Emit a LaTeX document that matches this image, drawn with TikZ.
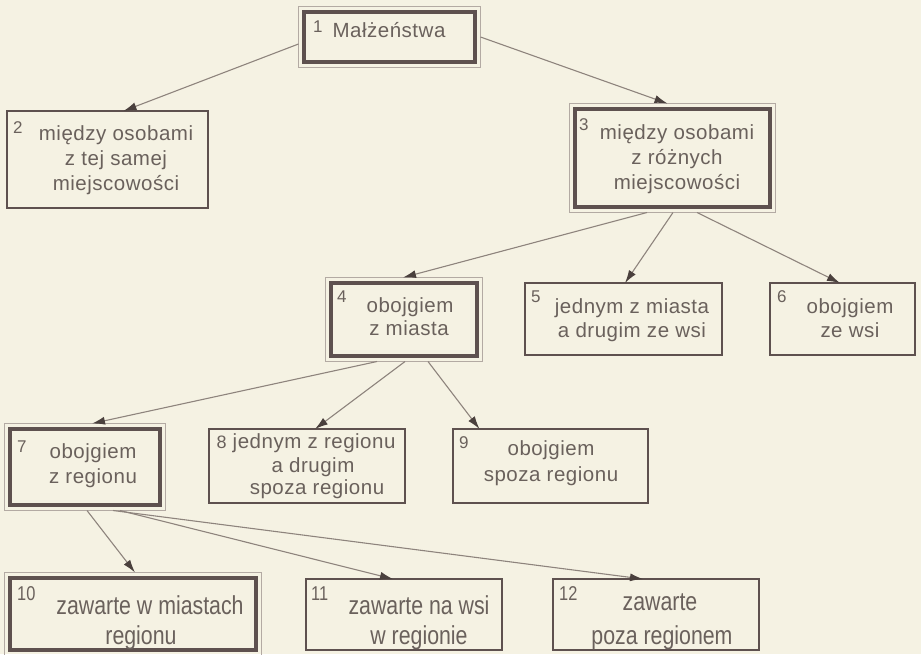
\documentclass[tikz,border=0pt]{standalone}
\usepackage{fontspec}
\setmainfont{Liberation Sans}
\newfontfamily\boxfont[LetterSpace=2.5]{Liberation Sans}
\newfontfamily\narrowfont[FakeStretch=0.82]{Liberation Sans}
\usetikzlibrary{arrows.meta}
\definecolor{bg}{HTML}{F5F2E3}
\definecolor{framec}{HTML}{5E514F}
\definecolor{lightframe}{HTML}{B3AAA3}
\definecolor{txtc}{HTML}{6A615C}
\definecolor{linec}{HTML}{8E847D}
\definecolor{headc}{HTML}{4A403D}
\begin{document}
\begin{tikzpicture}[x=1pt,y=-1pt,
  box/.style={draw=framec, line width=2.2pt, fill=bg, anchor=north west, inner sep=0pt, outer sep=0pt},
  heavy/.style={box, line width=4pt},
  outerframe/.style={draw=lightframe, line width=1.3pt},
  arr/.style={draw=linec, line width=1.1pt, -{Latex[length=13pt,width=8pt,color=headc]}},
  t/.style={anchor=base, font={\boxfont\fontsize{20.5pt}{24pt}\selectfont}, text=txtc, inner sep=0pt},
  num/.style={anchor=base west, font={\fontsize{17pt}{18pt}\selectfont}, text=txtc, inner sep=0pt},
  nt/.style={anchor=base, font={\narrowfont\fontsize{26pt}{30pt}\selectfont}, text=txtc, inner sep=0pt},
  nnum/.style={anchor=base west, font={\narrowfont\fontsize{20pt}{22pt}\selectfont}, text=txtc, inner sep=0pt}
]
\fill[bg] (0,0) rectangle (921,654);
\useasboundingbox (0,0) rectangle (921,654);

% boxes
\node[heavy, minimum width=171pt, minimum height=50pt] (b1) at (304,12) {};
\node[box, minimum width=201pt, minimum height=97pt] (b2) at (7,111) {};
\node[heavy, minimum width=195pt, minimum height=98pt] (b3) at (575,109) {};
\node[heavy, minimum width=146pt, minimum height=73pt] (b4) at (331,283) {};
\node[box, minimum width=197pt, minimum height=72pt] (b5) at (525,283) {};
\node[box, minimum width=145pt, minimum height=72pt] (b6) at (770,283) {};
\node[heavy, minimum width=150pt, minimum height=76pt] (b7) at (10,429) {};
\node[box, minimum width=196pt, minimum height=74pt] (b8) at (209,429) {};
\node[box, minimum width=195pt, minimum height=74pt] (b9) at (453,429) {};
\node[heavy, minimum width=246pt, minimum height=72pt] (b10) at (10,578) {};
\node[box, minimum width=196pt, minimum height=71pt] (b11) at (306,579) {};
\node[box, minimum width=206pt, minimum height=71pt] (b12) at (553,579) {};

% outer light frames of the heavy boxes
\foreach \b in {b1,b3,b4,b7,b10}
  \draw[outerframe] ([shift={(-5.5,-5.5)}]\b.north west) rectangle ([shift={(5.5,5.5)}]\b.south east);

% connectors
\draw[arr] ([shift={(-5.5,7)}]b1.west) -- ([shift={(16,0)}]b2.north);
\draw[arr] ([shift={(5.5,0)}]b1.east) -- ([shift={(-5,-5.5)}]b3.north);
\draw[arr] ([shift={(-25.5,5.5)}]b3.south) -- ([shift={(-1,-5.5)}]b4.north);
\draw[arr] ([shift={(0.5,5.5)}]b3.south) -- ([shift={(1.5,0)}]b5.north);
\draw[arr] ([shift={(24.5,5.5)}]b3.south) -- ([shift={(-2.5,0)}]b6.north);
\draw[arr] ([shift={(-27,5.5)}]b4.south) -- ([shift={(7,-5.5)}]b7.north);
\draw[arr] ([shift={(1,5.5)}]b4.south) -- ([shift={(8,0)}]b8.north);
\draw[arr] ([shift={(24,5.5)}]b4.south) -- ([shift={(-71,0)}]b9.north);
\draw[arr] ([shift={(2,5.5)}]b7.south) -- ([shift={(2,-5.5)}]b10.north);
\draw[arr] ([shift={(35,5.5)}]b7.south) -- ([shift={(-11,0)}]b11.north);
\draw[arr] ([shift={(28,5.5)}]b7.south) -- ([shift={(-13,0)}]b12.north);

% texts
\node[num] (n1) at (313,32) {1};
\node[t] (t1) at (389,37) {Małżeństwa};

\node[num] (n2) at (13,133) {2};
\node[t] (t2a) at (116,140) {między osobami};
\node[t] (t2b) at (116,165) {z tej samej};
\node[t] (t2c) at (116,190) {miejscowości};

\node[num] (n3) at (579,130) {3};
\node[t] (t3a) at (677,139) {między osobami};
\node[t] (t3b) at (677,164) {z różnych};
\node[t] (t3c) at (677,189) {miejscowości};

\node[num] (n4) at (337,302) {4};
\node[t] (t4a) at (410,312) {obojgiem};
\node[t] (t4b) at (409,335) {z miasta};

\node[num] (n5) at (531,302) {5};
\node[t] (t5a) at (632,313) {jednym z miasta};
\node[t] (t5b) at (632,337) {a drugim ze wsi};

\node[num] (n6) at (777,302) {6};
\node[t] (t6a) at (850,313) {obojgiem};
\node[t] (t6b) at (850,337) {ze wsi};

\node[num] (n7) at (17,452) {7};
\node[t] (t7a) at (93,458) {obojgiem};
\node[t] (t7b) at (93,483) {z regionu};

\node[t] (t8a) at (306,448) {{\normalfont\fontsize{18pt}{18pt}\selectfont 8} jednym z regionu};
\node[t] (t8b) at (313,472) {a drugim};
\node[t] (t8c) at (317,494) {spoza regionu};

\node[num] (n9) at (459,448) {9};
\node[t] (t9a) at (551,455) {obojgiem};
\node[t] (t9b) at (551,481) {spoza regionu};

\node[nnum] (n10) at (17,600) {10};
\node[nt] (t10a) at (150,614) {zawarte w miastach};
\node[nt] (t10b) at (141,644) {regionu};

\node[nnum] (n11) at (311,600) {11};
\node[nt] (t11a) at (419,614) {zawarte na wsi};
\node[nt] (t11b) at (419,644) {w regionie};

\node[nnum] (n12) at (559,600) {12};
\node[nt] (t12a) at (660,610) {zawarte};
\node[nt] (t12b) at (662,644) {poza regionem};
\end{tikzpicture}
\end{document}
